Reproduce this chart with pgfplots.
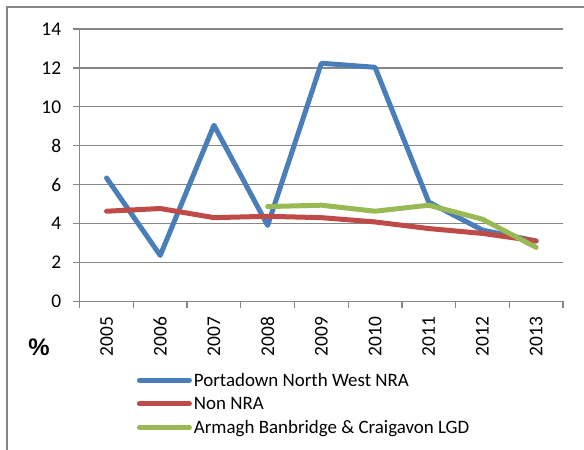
\documentclass[border=0pt]{standalone}
\usepackage{pgfplots}
\pgfplotsset{compat=1.18}
\usepackage{fontspec}
\setmainfont{Carlito}
\newfontfamily\pctfont{Liberation Sans}
\definecolor{axgray}{RGB}{134,134,134}
\definecolor{sblue}{RGB}{74,126,187}
\definecolor{sred}{RGB}{190,75,72}
\definecolor{sgreen}{RGB}{152,185,84}
\pgfplotstableread{
x blue red green
0 6.34 4.63 nan
1 2.36 4.77 nan
2 9.05 4.30 nan
3 3.90 4.37 4.87
4 12.24 4.30 4.94
5 12.03 4.08 4.63
6 5.10 3.74 4.94
7 3.66 3.49 4.22
8 3.10 3.10 2.77
}\datatable
\begin{document}
\begin{tikzpicture}[x=1bp,y=1bp]
\useasboundingbox (0,0) rectangle (584,450);
\draw[axgray, line width=1.4bp] (7,0) -- (7,443) -- (584,443);
\begin{axis}[
  at={(79.7bp,148.7bp)}, anchor=south west,
  scale only axis, width=483.3bp, height=272.3bp,
  xmin=-0.5, xmax=8.5, ymin=0, ymax=14,
  axis x line*=bottom, axis y line*=left,
  axis line style={draw=axgray, line width=1.3bp, -},
  ytick={0,2,...,14},
  yticklabel={\pgfmathprintnumber{\tick}\hspace*{8bp}},
  ymajorgrids, grid style={draw=axgray, line width=1.3bp},
  xtick={0,...,8},
  xticklabels={2005,2006,2007,2008,2009,2010,2011,2012,2013},
  minor xtick={-0.5,0.5,...,8.5},
  tick align=outside,
  major tick length=7bp, minor tick length=7bp,
  x tick style={draw=none},
  minor x tick style={draw=axgray, line width=1.3bp},
  y tick style={draw=axgray, line width=1.3bp},
  /pgf/number format/assume math mode=true,
  ticklabel style={font=\fontsize{19.5}{22}\selectfont, text=black},
  xticklabel style={rotate=90, anchor=east},
  xticklabel shift=5bp,
  legend style={at={(0.118,-0.255)}, anchor=north west, draw=none, fill=none,
    font=\fontsize{19}{22}\selectfont, inner sep=0pt, row sep=5.5bp, cells={anchor=west}},
  legend cell align=left,
  legend image code/.code={\draw[#1, line width=5bp, line cap=round] (0bp,0bp) -- (50bp,0bp);},
  every axis plot/.append style={line width=5bp, line cap=round, line join=round},
  unbounded coords=jump,
]
\addplot[sblue] table[x=x, y=blue] {\datatable};
\addlegendentry{Portadown North West NRA}
\addplot[sred] table[x=x, y=red] {\datatable};
\addlegendentry{Non NRA}
\addplot[sgreen] table[x=x, y=green] {\datatable};
\addlegendentry{Armagh Banbridge \& Craigavon LGD}
\end{axis}
\node[font=\pctfont\fontsize{24}{26}\selectfont\bfseries] at (39,103) {\%};
\end{tikzpicture}
\end{document}
